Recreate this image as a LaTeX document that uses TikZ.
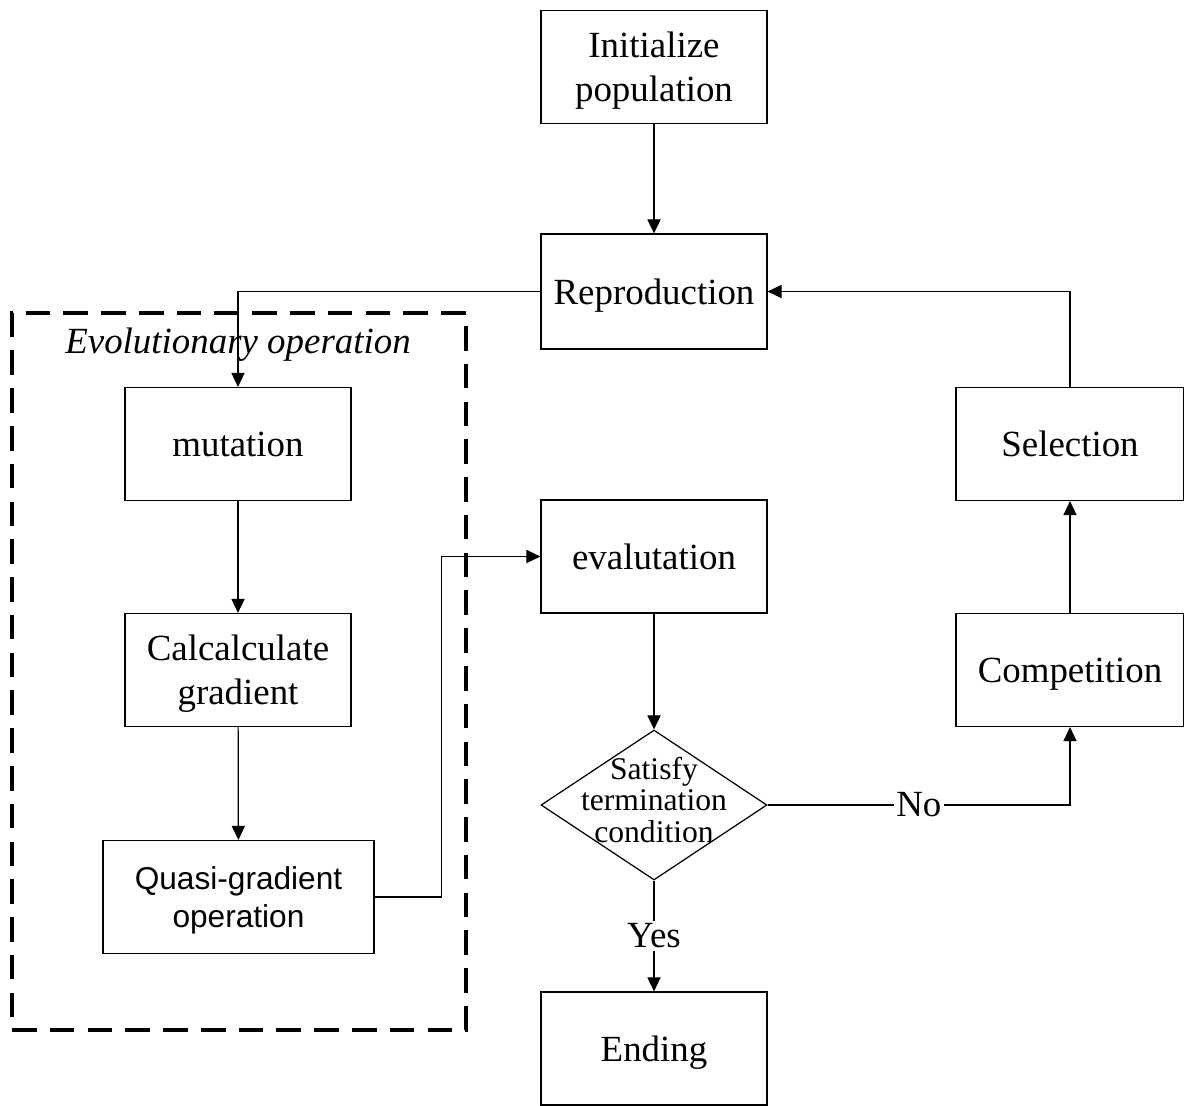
\documentclass[tikz,border=0pt]{standalone}
\usepackage{fontspec}
\setmainfont{Liberation Serif}
\newfontfamily\arialf{Liberation Sans}
\usetikzlibrary{shapes.geometric,arrows.meta}
\begin{document}
\begin{tikzpicture}[x=0.02cm,y=-0.02cm,
  box/.style={draw, line width=0.7pt, minimum width=4.52cm, minimum height=2.26cm, align=center, inner sep=0pt, text depth=0pt, font=\fontsize{21}{25}\selectfont},
  arr/.style={-{Triangle[length=8pt,width=7.5pt]}, line width=0.7pt},
  lbl/.style={fill=white, inner sep=1.5pt, font=\fontsize{21}{25}\selectfont}]
\useasboundingbox (0,0) rectangle (1184,1106);
% group frame
\node[draw, line width=1.9pt, dash pattern=on 14pt off 7.5pt, minimum width=9.08cm, minimum height=14.34cm, inner sep=0pt] (grp) at (239,671.5) {};
\node[font=\itshape\fontsize{21}{25}\selectfont] (evo) at (238,345) {Evolutionary operation};
% nodes
\node[box] (init) at (654,67) {Initialize\\population};
\node[box, minimum height=2.3cm] (rep) at (654,291.5) {Reproduction};
\node[box] (mut) at (238,444) {mutation};
\node[box] (calc) at (238,670) {Calcalculate\\gradient};
\node[box, minimum width=5.42cm, font=\arialf\fontsize{18}{21.5}\selectfont] (quasi) at (238.5,897) {Quasi-gradient\\operation};
\node[box] (eval) at (654,556.5) {evalutation};
\node[draw, diamond, minimum width=4.52cm, minimum height=3cm, inner sep=0pt, line width=0.7pt] (dia) at (654,805) {};
\node[align=center, inner sep=0pt, font=\fontsize{18}{18}\selectfont] (diat) at (654,800) {Satisfy\\termination\\condition};
\node[box] (end) at (654,1048.5) {Ending};
\node[box, minimum width=4.56cm] (sel) at (1070,444) {Selection};
\node[box, minimum width=4.56cm] (comp) at (1070,670) {Competition};
% connectors
\draw[arr] (init) -- (rep);
\draw[arr] (rep.west) -| (mut.north);
\draw[arr] (mut) -- (calc);
\draw[arr] (calc) -- (quasi);
\draw[arr] (quasi.east) -- ++(67,0) |- (eval.west);
\draw[arr] (eval) -- (dia);
\draw[arr] (dia.south) -- node[lbl] (yes) {Yes} (end.north);
\draw[arr] (dia.east) -| node[lbl, pos=0.25] (no) {No} (comp.south);
\draw[arr] (comp) -- (sel);
\draw[arr] (sel.north) |- (rep.east);
\end{tikzpicture}
\end{document}
